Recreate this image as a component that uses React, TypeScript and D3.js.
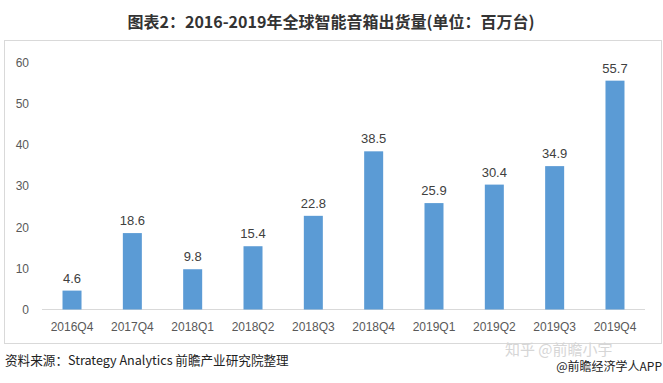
import React from "react";
import * as d3 from "d3";

const categories = ["2016Q4", "2017Q4", "2018Q1", "2018Q2", "2018Q3", "2018Q4", "2019Q1", "2019Q2", "2019Q3", "2019Q4"];
const shipments = [4.6, 18.6, 9.8, 15.4, 22.8, 38.5, 25.9, 30.4, 34.9, 55.7];
const yTicks = [0, 10, 20, 30, 40, 50, 60];
const title = "图表2：2016-2019年全球智能音箱出货量(单位：百万台)";
const source = "资料来源：Strategy Analytics 前瞻产业研究院整理";

const W = 663;
const H = 383;

export default function App() {
  const x = d3.scaleBand<string>().domain(categories).range([42, 645]).paddingInner(0.685).paddingOuter(0.34);
  const y = d3.scaleLinear().domain([0, 60]).range([309.5, 63]);
  const font = "'Liberation Sans', 'Noto Sans CJK SC', sans-serif";
  const cjk = "'Noto Sans CJK SC', sans-serif";
  return (
    <svg width={W} height={H} style={{ position: "absolute", left: 0, top: 0, background: "#fff" }}>
      <rect x={0} y={0} width={W} height={H} fill="#fff" />
      <text x={331} y={28} textAnchor="middle" fontFamily={cjk} fontWeight="bold" fontSize={16} fill="#333">
        {title}
      </text>
      <rect x={4.5} y={40.5} width={657} height={303} fill="none" stroke="#d9d9d9" strokeWidth={1} />
      <line x1={42} x2={645} y1={y(0)} y2={y(0)} stroke="#d9d9d9" strokeWidth={1} />
      {yTicks.map((t) => (
        <text key={t} x={29} y={y(t)} dy="0.35em" textAnchor="end" fontFamily={font} fontSize={12} fill="#595959">
          {t}
        </text>
      ))}
      {categories.map((c, i) => (
        <g key={c}>
          <rect x={x(c)} y={y(shipments[i])} width={x.bandwidth()} height={y(0) - y(shipments[i])} fill="#5b9bd5" />
          <text x={(x(c) as number) + x.bandwidth() / 2} y={y(shipments[i]) - 8} textAnchor="middle" fontFamily={font} fontSize={13} fill="#404040">
            {shipments[i]}
          </text>
          <text x={(x(c) as number) + x.bandwidth() / 2} y={331} textAnchor="middle" fontFamily={font} fontSize={12} fill="#595959">
            {c}
          </text>
        </g>
      ))}
      <text x={505} y={355} fontFamily={cjk} fontSize={15} fill="#d6d6d6">
        知乎 @前瞻小宇
      </text>
      <text x={5} y={365} fontFamily={cjk} fontSize={12.6} fill="#222">
        {source}
      </text>
      <text x={662} y={371} textAnchor="end" fontFamily={cjk} fontSize={12} fill="#222">
        @前瞻经济学人APP
      </text>
    </svg>
  );
}
